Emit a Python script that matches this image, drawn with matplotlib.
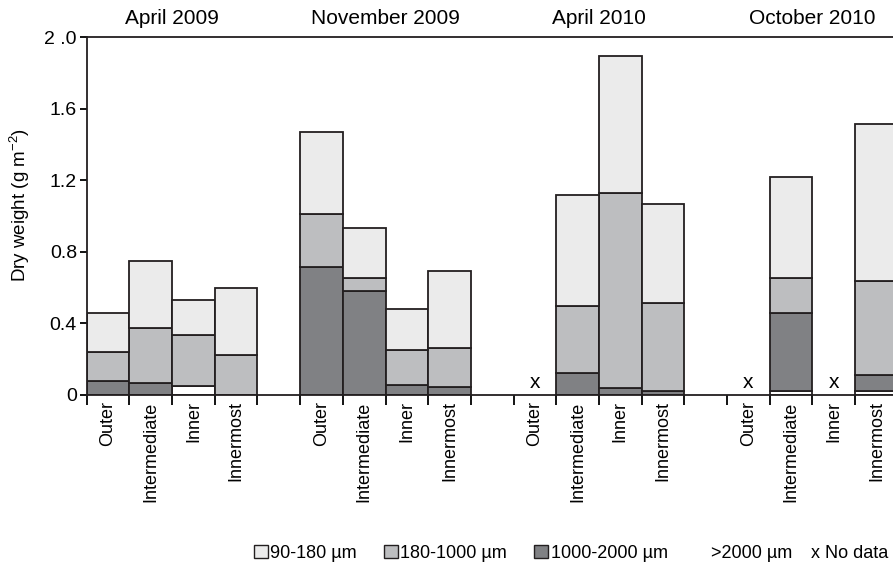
import numpy as np
import matplotlib
matplotlib.use("Agg")
import matplotlib.pyplot as plt
from matplotlib.patches import Patch
from matplotlib.transforms import blended_transform_factory

plt.rcParams['font.family'] = ['Liberation Sans', 'DejaVu Sans']

# sampling dates and stations
dates = ["April 2009", "November 2009", "April 2010", "October 2010"]
sites = ["Outer", "Intermediate", "Inner", "Innermost"]

nan = np.nan
# dry weight per size fraction (g m-2), 4 sites per date, nan = no data
over_2000 = [0.0, 0.0, 0.05, 0.0,
             0.0, 0.0, 0.0, 0.0,
             nan, 0.0, 0.0, 0.0,
             nan, 0.022, nan, 0.02]
f_1000_2000 = [0.074, 0.063, 0.0, 0.0,
               0.715, 0.579, 0.053, 0.044,
               nan, 0.118, 0.035, 0.02,
               nan, 0.436, nan, 0.09]
f_180_1000 = [0.166, 0.311, 0.283, 0.223,
              0.293, 0.073, 0.196, 0.216,
              nan, 0.377, 1.09, 0.494,
              nan, 0.192, nan, 0.526]
f_90_180 = [0.218, 0.375, 0.196, 0.375,
            0.462, 0.281, 0.229, 0.43,
            nan, 0.623, 0.769, 0.552,
            nan, 0.565, nan, 0.877]

layers = [
    (over_2000, "white", ">2000 µm"),
    (f_1000_2000, "#808184", "1000-2000 µm"),
    (f_180_1000, "#bdbec0", "180-1000 µm"),
    (f_90_180, "#ebebeb", "90-180 µm"),
]

edge = "#231f20"
lw = 1.3

fig = plt.figure(figsize=(8.93, 5.72), dpi=100)
ax = fig.add_axes([0.0971, 0.3103, 0.9082, 0.625])

n = len(sites)
xpos = np.array([g * (n + 1) + i + 0.5 for g in range(len(dates)) for i in range(n)])
bottom = np.zeros(len(xpos))
for vals, color, name in layers:
    v = np.array(vals, dtype=float)
    ok = ~np.isnan(v)
    ax.bar(xpos[ok], v[ok], width=1.0, bottom=bottom[ok], color=color,
           edgecolor=edge, linewidth=lw, zorder=2)
    bottom[ok] += v[ok]

# "x" where no data
missing = np.isnan(np.array(f_90_180))
for x in xpos[missing]:
    ax.text(x, 0.015, "x", ha="center", va="bottom", fontsize=15)

ax.set_xlim(0, len(dates) * (n + 1) - 1)
ax.set_ylim(0, 2.0)

# ticks at bar edges, labels at bar centres
edges = [g * (n + 1) + i for g in range(len(dates)) for i in range(n + 1)]
ax.set_xticks(edges)
ax.set_xticklabels([])
ax.set_xticks(xpos, minor=True)
ax.set_xticklabels(sites * len(dates), minor=True, rotation=90,
                   ha="center", va="top", fontsize=13)
ax.tick_params(axis="x", which="major", direction="out", length=7, width=1.3)
ax.tick_params(axis="x", which="minor", length=0, pad=5)

yt = [0, 0.4, 0.8, 1.2, 1.6, 2.0]
ax.set_yticks(yt)
ax.set_yticklabels(["0", "0.4", "0.8", "1.2", "1.6", "2 .0"], fontsize=14)
ax.tick_params(axis="y", direction="out", length=5, width=1.3, pad=2)
ax.set_ylabel("Dry weight (g m$^{\\mathregular{-2}}$)", fontsize=13.5)
ax.yaxis.set_label_coords(-0.067, 0.53)

for s in ["left", "bottom", "top"]:
    ax.spines[s].set_linewidth(1.3)
    ax.spines[s].set_color(edge)
ax.spines["right"].set_visible(False)

# date headers above each group
tr = blended_transform_factory(ax.transData, fig.transFigure)
for g, d in enumerate(dates):
    fig.text(g * (n + 1) + n / 2, 0.968, d, transform=tr, ha="center",
             va="center", fontsize=15)

handles = [
    Patch(facecolor="#ebebeb", edgecolor=edge, linewidth=1.0),
    Patch(facecolor="#bdbec0", edgecolor=edge, linewidth=1.0),
    Patch(facecolor="#808184", edgecolor=edge, linewidth=1.0),
    Patch(facecolor="white", edgecolor="white", linewidth=0),
]
labels = ["90-180 µm", "180-1000 µm", "1000-2000 µm", ">2000 µm"]
fig.legend(handles, labels, loc="center right", bbox_to_anchor=(0.887, 0.033),
           ncol=4, frameon=False, fontsize=13, handlelength=0.75,
           handleheight=0.75, handletextpad=0.15, columnspacing=1.5,
           borderaxespad=0, borderpad=0)
fig.text(0.995, 0.033, "x No data", ha="right", va="center", fontsize=13)

fig.savefig("out.png", dpi=100)
